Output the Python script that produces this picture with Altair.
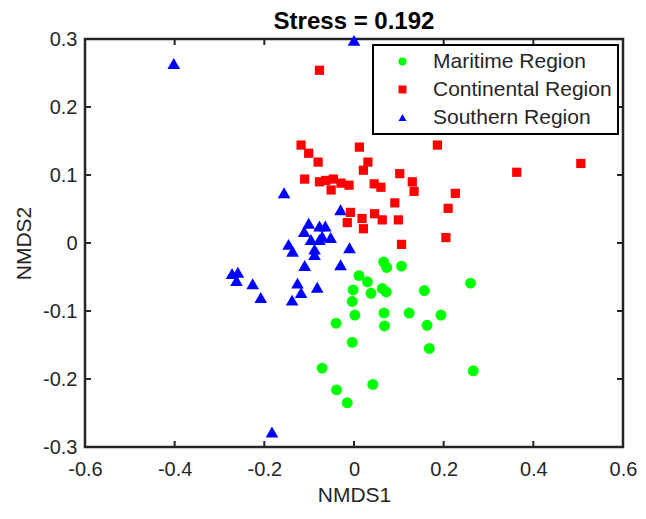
import altair as alt
import pandas as pd

regions = ["Maritime Region", "Continental Region", "Southern Region"]
colors = ["#00FF00", "#FF0000", "#0000FF"]
shapes = ["circle", "square", "triangle-up"]
marker_sizes = [120, 85, 160]

maritime_x = [0.066, 0.073, 0.106, 0.011, 0.030, -0.002, 0.038, 0.063, 0.072, 0.157, 0.260,
              -0.004, 0.002, 0.067, 0.123, 0.194, -0.040, 0.068, 0.163, -0.004, 0.168,
              -0.071, 0.266, 0.042, -0.039, -0.015]
maritime_y = [-0.028, -0.036, -0.034, -0.048, -0.057, -0.069, -0.074, -0.067, -0.072, -0.070, -0.059,
              -0.086, -0.106, -0.103, -0.103, -0.106, -0.118, -0.122, -0.121, -0.146, -0.155,
              -0.184, -0.188, -0.208, -0.216, -0.235]

continental_x = [-0.118, -0.101, -0.080, 0.012, 0.031, 0.021, -0.110, -0.077, -0.063, -0.046,
                 -0.029, -0.011, -0.051, 0.045, 0.060, -0.008, -0.015, 0.018, 0.021, 0.046,
                 0.063, 0.099, 0.091, 0.102, 0.130, 0.134, 0.186, 0.226, 0.210, 0.205,
                 0.106, 0.363, 0.506, -0.077]
continental_y = [0.144, 0.132, 0.119, 0.141, 0.119, 0.107, 0.094, 0.090, 0.092, 0.094,
                 0.088, 0.085, 0.078, 0.087, 0.082, 0.045, 0.030, 0.036, 0.021, 0.043,
                 0.034, 0.034, 0.059, 0.102, 0.090, 0.076, 0.144, 0.073, 0.051, 0.008,
                 -0.002, 0.104, 0.117, 0.254]

southern_x = [-0.402, 0.000, -0.183, -0.156, -0.030, -0.101, -0.111, -0.077, -0.064, -0.096,
              -0.071, -0.052, -0.077, -0.146, -0.137, -0.088, -0.088, -0.010, -0.110, -0.030,
              -0.272, -0.259, -0.262, -0.226, -0.208, -0.126, -0.118, -0.138, -0.082]
southern_y = [0.264, 0.298, -0.278, 0.074, 0.049, 0.029, 0.017, 0.025, 0.025, 0.005,
              0.010, 0.008, 0.005, -0.002, -0.012, -0.009, -0.017, -0.007, -0.033, -0.032,
              -0.045, -0.043, -0.055, -0.060, -0.080, -0.059, -0.073, -0.084, -0.065]

x_ticks = [-0.6, -0.4, -0.2, 0, 0.2, 0.4, 0.6]
y_ticks = [-0.3, -0.2, -0.1, 0, 0.1, 0.2, 0.3]
x_inner = [-0.4, -0.2, 0, 0.2, 0.4]
y_inner = [-0.2, -0.1, 0, 0.1, 0.2]

W, H = 538, 408
FONT = "Liberation Sans"

rows = []
for name, xs, ys in [(regions[0], maritime_x, maritime_y),
                     (regions[1], continental_x, continental_y),
                     (regions[2], southern_x, southern_y)]:
    for a, b in zip(xs, ys):
        rows.append({"NMDS1": a, "NMDS2": b, "Region": name})
df = pd.DataFrame(rows)

xscale = alt.Scale(domain=[-0.6, 0.6], nice=False, zero=False)
yscale = alt.Scale(domain=[-0.3, 0.3], nice=False, zero=False)
lbl = "replace(format(datum.value, '~g'), '\u2212', '-')"

xaxis = alt.Axis(values=x_ticks, title="NMDS1", labelExpr=lbl, domain=False, ticks=False, grid=False,
                 labelFontSize=20, labelFont=FONT, labelColor="#262626", labelPadding=12,
                 titleFontSize=21, titleFont=FONT, titleColor="#262626", titleFontWeight="normal",
                 titlePadding=5, labelFlush=False)
yaxis = alt.Axis(values=y_ticks, title="NMDS2", labelExpr=lbl, domain=False, ticks=False, grid=False,
                 labelFontSize=20, labelFont=FONT, labelColor="#262626", labelPadding=8,
                 titleFontSize=21, titleFont=FONT, titleColor="#262626", titleFontWeight="normal",
                 titlePadding=8, labelFlush=False)

color_enc = alt.Color("Region:N", scale=alt.Scale(domain=regions, range=colors),
                      legend=alt.Legend(title=None, orient="none", legendX=288, legendY=6,
                                        strokeColor="black", fillColor="white", padding=6,
                                        labelFontSize=21, labelFont=FONT, labelColor="#262626",
                                        labelLimit=0,
                                        symbolSize=64, symbolOffset=13, labelOffset=20,
                                        rowPadding=6, symbolStrokeWidth=0))
shape_enc = alt.Shape("Region:N", scale=alt.Scale(domain=regions, range=shapes))

layers = []
for name, sz in zip(regions, marker_sizes):
    layers.append(
        alt.Chart(df).transform_filter(alt.datum.Region == name)
        .mark_point(filled=True, opacity=1, size=sz)
        .encode(x=alt.X("NMDS1:Q", scale=xscale, axis=xaxis),
                y=alt.Y("NMDS2:Q", scale=yscale, axis=yaxis),
                color=color_enc, shape=shape_enc)
    )

xt = pd.DataFrame({"v": x_inner})
yt = pd.DataFrame({"v": y_inner})
tick_style = dict(color="#262626", strokeWidth=2)
tb = alt.Chart(xt).mark_rule(**tick_style).encode(x=alt.X("v:Q", scale=xscale), y=alt.value(H), y2=alt.value(H - 6))
tt = alt.Chart(xt).mark_rule(**tick_style).encode(x=alt.X("v:Q", scale=xscale), y=alt.value(0), y2=alt.value(6))
tl = alt.Chart(yt).mark_rule(**tick_style).encode(y=alt.Y("v:Q", scale=yscale), x=alt.value(0), x2=alt.value(6))
tr = alt.Chart(yt).mark_rule(**tick_style).encode(y=alt.Y("v:Q", scale=yscale), x=alt.value(W), x2=alt.value(W - 6))

# draw southern triangles first so the other markers sit on top, as in the reference
chart = alt.layer(tb, tt, tl, tr, layers[2], layers[1], layers[0]).properties(
    width=W, height=H,
    title=alt.TitleParams("Stress = 0.192", fontSize=24, fontWeight="bold", font=FONT,
                          color="black", anchor="middle", offset=-5),
    autosize=alt.AutoSizeParams(type="none"),
    padding={"left": 77, "top": 31, "right": 15, "bottom": 64},
).configure_view(stroke="#262626", strokeWidth=2.5).configure_legend(strokeWidth=2)

chart.save("out.html", embed_options={"renderer": "svg", "actions": False})
